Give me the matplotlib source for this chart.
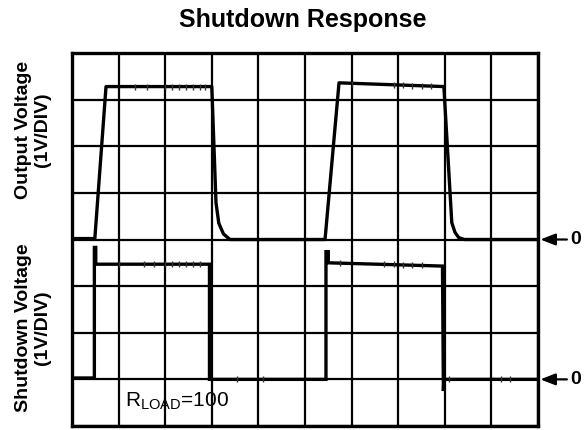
import matplotlib
matplotlib.use('Agg')
import matplotlib.pyplot as plt
import numpy as np

plt.rcParams['font.family'] = ['Liberation Sans', 'DejaVu Sans']
plt.rcParams['mathtext.default'] = 'regular'

# scope traces, in divisions (10 x 8 grid, y=0 at bottom)
out_t = [0.0, 0.49, 0.73, 3.0, 3.09, 3.15, 3.25, 3.39, 5.43, 5.73, 7.98, 8.15, 8.22, 8.30, 8.42, 10.0]
out_v = [4.02, 4.02, 7.28, 7.28, 4.79, 4.35, 4.12, 4.0, 4.0, 7.36, 7.28, 4.36, 4.15, 4.04, 4.0, 4.0]

sd_t = [0.0, 0.48, 0.48, 0.51, 0.51, 2.95, 2.95, 5.45, 5.45, 5.5, 5.5, 7.95, 7.97, 7.98, 10.0]
sd_v = [1.03, 1.03, 3.83, 3.83, 3.47, 3.47, 1.0, 1.0, 3.74, 3.74, 3.50, 3.43, 0.75, 1.0, 1.0]

# little scope glitches sitting on the traces
glitch_out_x = [1.35, 1.6, 2.0, 2.15, 2.3, 2.45, 2.6, 2.75, 2.85, 6.0, 6.9, 7.1, 7.3, 7.5, 7.7]
glitch_out_y = [7.28, 7.28, 7.28, 7.28, 7.28, 7.28, 7.28, 7.28, 7.28, 7.34, 7.31, 7.31, 7.30, 7.30, 7.29]
glitch_sd_x = [1.0, 1.55, 1.75, 2.0, 2.15, 2.3, 2.45, 2.6, 2.75, 3.55, 4.1, 5.75, 6.7, 6.9, 7.1, 7.3, 7.5, 8.1, 9.2, 9.4]
glitch_sd_y = [3.47, 3.47, 3.47, 3.47, 3.47, 3.47, 3.47, 3.47, 3.47, 1.0, 1.0, 3.50, 3.47, 3.47, 3.46, 3.45, 3.45, 1.0, 1.0, 1.0]

title = "Shutdown Response"
label_top = "Output Voltage\n(1V/DIV)"
label_bot = "Shutdown Voltage\n(1V/DIV)"
zero_levels = [4, 1]

fig = plt.figure(figsize=(5.88, 4.30), dpi=100)
ax = fig.add_axes([72/588, 4/430, 466/588, 373/430])

ax.set_xlim(0, 10)
ax.set_ylim(0, 8)
ax.set_xticks(np.arange(0, 11))
ax.set_yticks(np.arange(0, 9))
ax.grid(True, color='black', linewidth=1.6)
ax.tick_params(length=0, labelleft=False, labelbottom=False)
for s in ax.spines.values():
    s.set_linewidth(2.4)

ax.plot(out_t, out_v, color='black', linewidth=2.4, solid_joinstyle='round', zorder=3)
ax.plot(sd_t, sd_v, color='black', linewidth=2.4, solid_joinstyle='miter', zorder=3)
ax.plot(glitch_out_x, glitch_out_y, linestyle='none', marker='|', markersize=5,
        markeredgewidth=1.0, color='#333333', zorder=3)
ax.plot(glitch_sd_x, glitch_sd_y, linestyle='none', marker='|', markersize=5,
        markeredgewidth=1.0, color='#333333', zorder=3)

ax.text(1.14, 0.41, r'R$_{LOAD}$=100', fontsize=15, color='black', va='baseline')

# zero markers on the right
for z in zero_levels:
    ax.annotate('', xy=(10.05, z), xytext=(10.62, z), xycoords='data',
                arrowprops=dict(arrowstyle='-|>,head_length=0.9,head_width=0.35',
                                color='black', lw=1.6, shrinkA=0, shrinkB=0),
                annotation_clip=False)
    ax.text(10.70, z, '0', fontsize=14, fontweight='bold', va='center', ha='left')

fig.text(303/588, 1 - 20/430, title, fontsize=18, fontweight='bold', ha='center', va='center')
fig.text(33/588, 1 - 130/430, label_top, fontsize=14, fontweight='bold', rotation=90,
         ha='center', va='center', linespacing=1.1)
fig.text(33/588, 1 - 328/430, label_bot, fontsize=14, fontweight='bold', rotation=90,
         ha='center', va='center', linespacing=1.1)

plt.savefig('out.png', dpi=100)
